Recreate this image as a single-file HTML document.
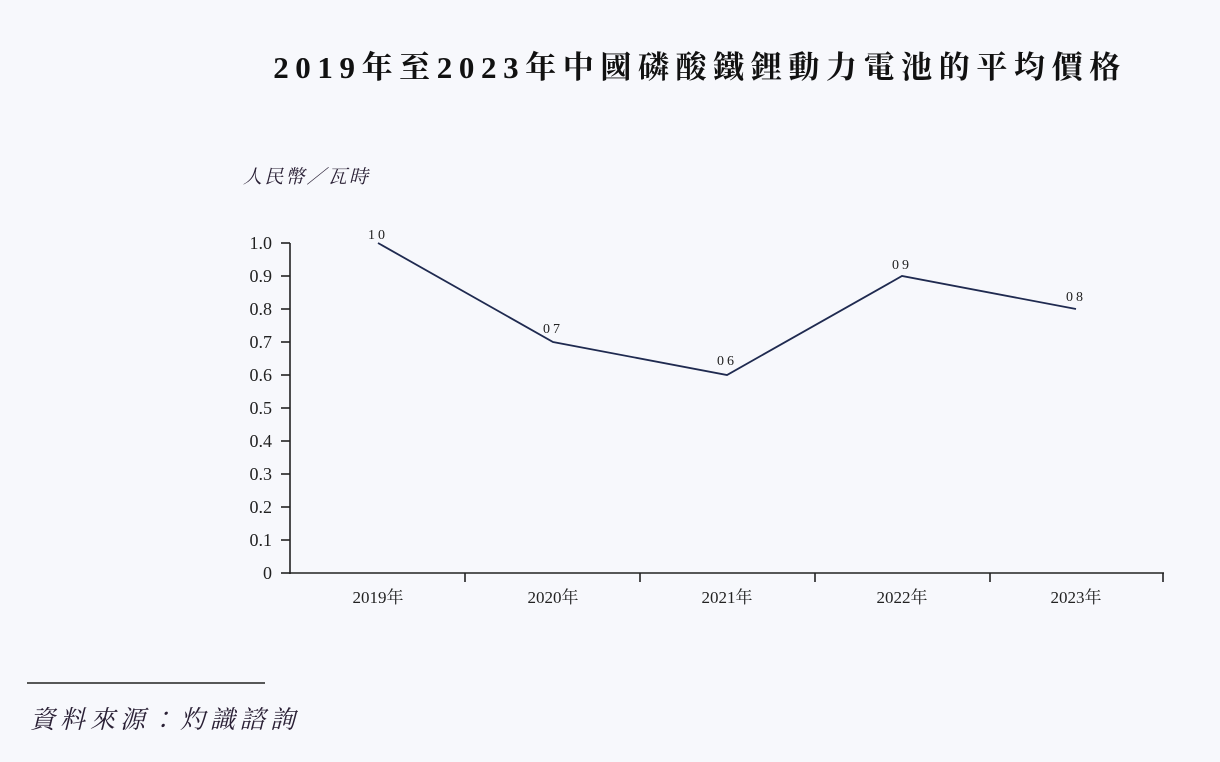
<!DOCTYPE html>
<html><head><meta charset="utf-8"><style>
html,body{margin:0;padding:0;background:#f7f8fc;}
svg{display:block;}
</style></head><body>
<svg width="1220" height="762" viewBox="0 0 1220 762" xmlns="http://www.w3.org/2000/svg">
<rect width="1220" height="762" fill="#f7f8fc"/>
<text x="700" y="78" text-anchor="middle" font-family="Liberation Serif, 'Noto Serif CJK SC', serif" font-weight="bold" font-size="31" fill="#111" letter-spacing="6.6">2019年至2023年中國磷酸鐵鋰動力電池的平均價格</text>
<text x="243" y="183" font-family="Liberation Serif, 'Noto Serif CJK SC', serif" font-size="19" font-style="italic" fill="#2a2035" letter-spacing="2.2">人民幣／瓦時</text>
<g stroke="#222" stroke-width="1.6" fill="none">
<line x1="290" y1="243" x2="290" y2="574"/>
<line x1="290" y1="573" x2="1164" y2="573"/>
<line x1="281" y1="243" x2="290" y2="243"/><line x1="281" y1="276" x2="290" y2="276"/>
<line x1="281" y1="309" x2="290" y2="309"/><line x1="281" y1="342" x2="290" y2="342"/>
<line x1="281" y1="375" x2="290" y2="375"/><line x1="281" y1="408" x2="290" y2="408"/>
<line x1="281" y1="441" x2="290" y2="441"/><line x1="281" y1="474" x2="290" y2="474"/>
<line x1="281" y1="507" x2="290" y2="507"/><line x1="281" y1="540" x2="290" y2="540"/>
<line x1="281" y1="573" x2="290" y2="573"/>
<line x1="465" y1="573" x2="465" y2="582"/><line x1="640" y1="573" x2="640" y2="582"/>
<line x1="815" y1="573" x2="815" y2="582"/><line x1="990" y1="573" x2="990" y2="582"/>
<line x1="1163" y1="573" x2="1163" y2="582"/>
</g>
<g font-family="Liberation Serif, serif" font-size="18" fill="#222" text-anchor="end">
<text x="272" y="249">1.0</text><text x="272" y="282">0.9</text><text x="272" y="315">0.8</text>
<text x="272" y="348">0.7</text><text x="272" y="381">0.6</text><text x="272" y="414">0.5</text>
<text x="272" y="447">0.4</text><text x="272" y="480">0.3</text><text x="272" y="513">0.2</text>
<text x="272" y="546">0.1</text><text x="272" y="579">0</text>
</g>
<g font-family="Liberation Serif, 'Noto Serif CJK SC', serif" font-size="17" fill="#222" text-anchor="middle">
<text x="378" y="603">2019年</text><text x="553" y="603">2020年</text><text x="727" y="603">2021年</text>
<text x="902" y="603">2022年</text><text x="1076" y="603">2023年</text>
</g>
<polyline points="378,243 553,342 727,375 902,276 1076,309" fill="none" stroke="#1f2a50" stroke-width="1.8"/>
<g font-family="Liberation Serif, serif" font-size="14" fill="#222" text-anchor="middle" letter-spacing="3">
<text x="378" y="239">10</text><text x="553" y="333">07</text><text x="727" y="365">06</text>
<text x="902" y="269">09</text><text x="1076" y="301">08</text>
</g>
<line x1="27" y1="683" x2="265" y2="683" stroke="#222" stroke-width="1.6"/>
<text x="30" y="728" font-family="Liberation Serif, 'Noto Serif CJK TC', serif" font-size="25" font-style="italic" fill="#2a2035" letter-spacing="5">資料來源：灼識諮詢</text>
</svg>
</body></html>
